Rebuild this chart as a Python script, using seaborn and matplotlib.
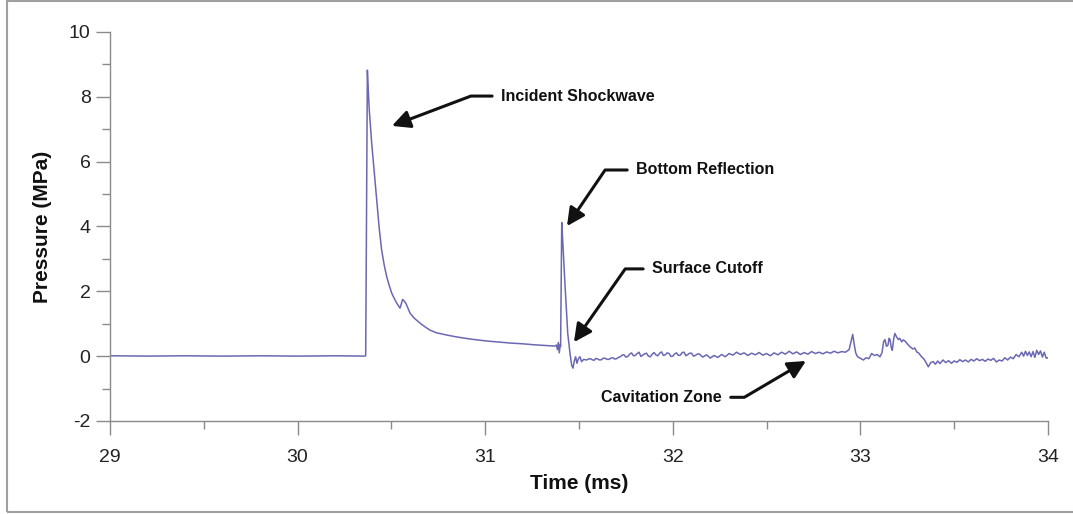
import matplotlib
matplotlib.use("Agg")
import matplotlib.pyplot as plt
import matplotlib.patches as patches
from matplotlib.ticker import MultipleLocator
import seaborn as sns
import pandas as pd

# Pressure trace (time in ms, pressure in MPa)
time_ms = [
    29.00, 29.20, 29.40, 29.60, 29.80, 30.00, 30.20, 30.36,
    # incident shockwave
    30.363, 30.372, 30.376, 30.382, 30.395, 30.410, 30.422, 30.435, 30.448, 30.462,
    30.475, 30.490, 30.502, 30.515, 30.528, 30.546, 30.552, 30.560, 30.568, 30.578,
    30.590, 30.599, 30.620, 30.652, 30.680, 30.706, 30.740, 30.795, 30.840, 30.882,
    30.930, 30.972, 31.020, 31.080, 31.140, 31.200, 31.260, 31.320, 31.370,
    # bottom reflection and surface cutoff
    31.380, 31.385, 31.390, 31.395, 31.400, 31.402, 31.408, 31.412, 31.425, 31.440,
    31.452, 31.461, 31.468, 31.475, 31.482, 31.489, 31.497, 31.505, 31.514, 31.525,
    # cavitation zone
    31.54, 31.55, 31.56, 31.57, 31.58, 31.59, 31.60, 31.61, 31.62, 31.63,
    31.64, 31.65, 31.66, 31.67, 31.68, 31.69, 31.70, 31.71, 31.72, 31.73,
    31.74, 31.75, 31.76, 31.77, 31.78, 31.79, 31.80, 31.81, 31.82, 31.83,
    31.84, 31.85, 31.86, 31.87, 31.88, 31.89, 31.90, 31.91, 31.92, 31.93,
    31.94, 31.95, 31.96, 31.97, 31.98, 31.99, 32.00, 32.01, 32.02, 32.03,
    32.04, 32.05, 32.06, 32.07, 32.08, 32.09, 32.10, 32.11, 32.12, 32.13,
    32.14, 32.16, 32.18, 32.20, 32.22, 32.24, 32.26, 32.28, 32.30, 32.32,
    32.34, 32.36, 32.38, 32.40, 32.42, 32.44, 32.46, 32.48, 32.50, 32.52,
    32.54, 32.56, 32.58, 32.60, 32.62, 32.64, 32.66, 32.68, 32.70, 32.72,
    32.74, 32.76, 32.78, 32.80, 32.82, 32.84, 32.86, 32.88, 32.90, 32.92,
    32.94,
    # late spikes and tail
    32.950, 32.959, 32.966, 32.975, 32.985, 33.000, 33.016, 33.030, 33.045, 33.060,
    33.075, 33.090, 33.104, 33.115, 33.124, 33.131, 33.139, 33.147, 33.153, 33.158,
    33.165, 33.170, 33.178, 33.184, 33.192, 33.202, 33.210, 33.220, 33.228, 33.237,
    33.250, 33.264, 33.280, 33.290, 33.300, 33.310, 33.326, 33.340, 33.350, 33.362,
    33.375, 33.388, 33.400, 33.412, 33.424, 33.440, 33.455, 33.470, 33.485, 33.500,
    33.515, 33.530, 33.545, 33.560, 33.575, 33.590, 33.605, 33.620, 33.635, 33.650,
    33.665, 33.680, 33.695, 33.710, 33.725, 33.740, 33.755, 33.770, 33.785, 33.800,
    33.815, 33.830, 33.845, 33.860, 33.870, 33.880, 33.890, 33.900, 33.910, 33.920,
    33.930, 33.940, 33.950, 33.960, 33.970, 33.980, 33.990, 34.000,
]

pressure_mpa = [
    0.01, 0.00, 0.01, 0.00, 0.01, 0.00, 0.01, 0.00,
    0.02, 8.82, 8.30, 7.60, 6.57, 5.60, 4.81, 3.95, 3.27, 2.80,
    2.45, 2.15, 1.94, 1.78, 1.64, 1.48, 1.60, 1.75, 1.70, 1.62,
    1.45, 1.33, 1.18, 1.02, 0.90, 0.80, 0.72, 0.65, 0.60, 0.56,
    0.52, 0.49, 0.46, 0.43, 0.40, 0.38, 0.35, 0.33, 0.31,
    0.34, 0.20, 0.42, 0.10, 0.35, 0.30, 4.12, 3.70, 2.25, 0.70,
    0.09, -0.28, -0.37, -0.15, -0.02, -0.22, -0.08, -0.02, -0.17, -0.10,
    -0.12, -0.09, -0.08, -0.11, -0.13, -0.07, -0.09, -0.12, -0.11, -0.06,
    -0.07, -0.10, -0.10, -0.06, -0.05, -0.09, -0.08, -0.04, -0.02, 0.03,
    0.04, -0.03, -0.01, 0.06, 0.10, 0.01, 0.02, 0.08, 0.12, -0.01,
    0.03, 0.07, 0.09, 0.00, -0.02, 0.06, 0.11, 0.04, 0.01, 0.09,
    0.13, 0.02, 0.04, 0.10, 0.08, -0.01, 0.00, 0.07, 0.10, 0.02,
    0.03, 0.11, 0.12, 0.01, 0.05, 0.09, 0.09, 0.00, 0.02, 0.06,
    0.07, -0.03, 0.04, -0.06, 0.02, -0.04, 0.05, -0.02, 0.08, 0.03,
    0.12, 0.05, 0.10, 0.02, 0.09, 0.04, 0.11, 0.03, 0.08, 0.01,
    0.10, 0.04, 0.12, 0.06, 0.15, 0.07, 0.13, 0.05, 0.11, 0.06,
    0.14, 0.08, 0.12, 0.07, 0.13, 0.09, 0.15, 0.10, 0.14, 0.12,
    0.20,
    0.45, 0.67, 0.40, 0.10, -0.02, -0.07, -0.12, -0.05, -0.08, 0.08,
    0.02, 0.05, -0.02, 0.10, 0.45, 0.51, 0.30, 0.34, 0.55, 0.51,
    0.25, 0.18, 0.55, 0.70, 0.60, 0.51, 0.55, 0.44, 0.50, 0.47,
    0.38, 0.29, 0.22, 0.25, 0.13, 0.10, -0.02, -0.10, -0.20, -0.33,
    -0.20, -0.17, -0.25, -0.15, -0.23, -0.12, -0.20, -0.14, -0.22, -0.15,
    -0.19, -0.11, -0.17, -0.12, -0.18, -0.10, -0.15, -0.08, -0.14, -0.10,
    -0.16, -0.09, -0.13, -0.07, -0.18, -0.12, -0.15, -0.05, -0.12, -0.03,
    -0.08, 0.05, -0.02, 0.12, 0.00, 0.15, 0.02, 0.13, -0.02, 0.14,
    -0.04, 0.18, 0.05, 0.16, -0.03, 0.12, -0.06, -0.05,
]

# Annotations: label, text anchor (x, y), arrow tip (x, y), diagonal angle, alignment
labels = ["Incident Shockwave", "Bottom Reflection", "Surface Cutoff", "Cavitation Zone"]
text_xy = [(31.084, 8.02), (31.804, 5.74), (31.889, 2.69), (32.262, -1.27)]
tip_xy = [(30.503, 7.10), (31.436, 4.01), (31.473, 0.43), (32.710, -0.15)]
arrow_angles = [20.7, 55.8, 55.0, 30.5]
text_align = ["left", "left", "left", "right"]

df = pd.DataFrame({"Time (ms)": time_ms, "Pressure (MPa)": pressure_mpa})

sns.set_style("ticks")
plt.rcParams["font.family"] = ["Liberation Sans", "DejaVu Sans"]
plt.rcParams["axes.unicode_minus"] = False

fig = plt.figure(figsize=(10.73, 5.14), dpi=100)
ax = fig.add_axes([0.1025, 0.181, 0.8742, 0.757])

sns.lineplot(data=df, x="Time (ms)", y="Pressure (MPa)", ax=ax,
             color="#6a68b2", linewidth=1.1, sort=False, estimator=None)

ax.set_xlim(29, 34)
ax.set_ylim(-2, 10)
ax.xaxis.set_major_locator(MultipleLocator(1))
ax.xaxis.set_minor_locator(MultipleLocator(0.5))
ax.yaxis.set_major_locator(MultipleLocator(2))
ax.yaxis.set_minor_locator(MultipleLocator(1))

for side in ["top", "right"]:
    ax.spines[side].set_visible(False)
for side in ["left", "bottom"]:
    ax.spines[side].set_color("#8a8a8a")
    ax.spines[side].set_linewidth(1.0)

ax.tick_params(which="both", bottom=True, left=True, top=False, right=False)
ax.tick_params(which="major", direction="out", length=10, width=1,
               color="#8a8a8a", labelsize=14, labelcolor="#222222", pad=4)
ax.tick_params(which="minor", direction="out", length=6, width=1, color="#8a8a8a")
ax.tick_params(axis="x", which="major", pad=10)

ax.set_xlabel("Time (ms)", fontsize=15, fontweight="bold", color="#111111", labelpad=6)
ax.set_ylabel("Pressure (MPa)", fontsize=15, fontweight="bold", color="#111111", labelpad=12)

for label, txy, tip, ang, ha in zip(labels, text_xy, tip_xy, arrow_angles, text_align):
    angle_a = 0 if ha == "left" else 180
    ax.annotate(label, xy=tip, xytext=txy, ha=ha, va="center",
                fontsize=11.5, fontweight="bold", color="#111111",
                arrowprops=dict(arrowstyle="-|>,head_length=0.6,head_width=0.3",
                                color="#111111", lw=2.2,
                                mutation_scale=18, shrinkA=4, shrinkB=0,
                                connectionstyle=f"angle,angleA={angle_a},angleB={ang},rad=0"))

# grey frame around the whole figure
fig.patches.append(patches.Rectangle((7 / 1073, 2 / 514), 1.2, 1 - 3 / 514,
                                     transform=fig.transFigure, fill=False,
                                     edgecolor="#a0a0a0", linewidth=1.5))

fig.savefig("out.png", dpi=100)
